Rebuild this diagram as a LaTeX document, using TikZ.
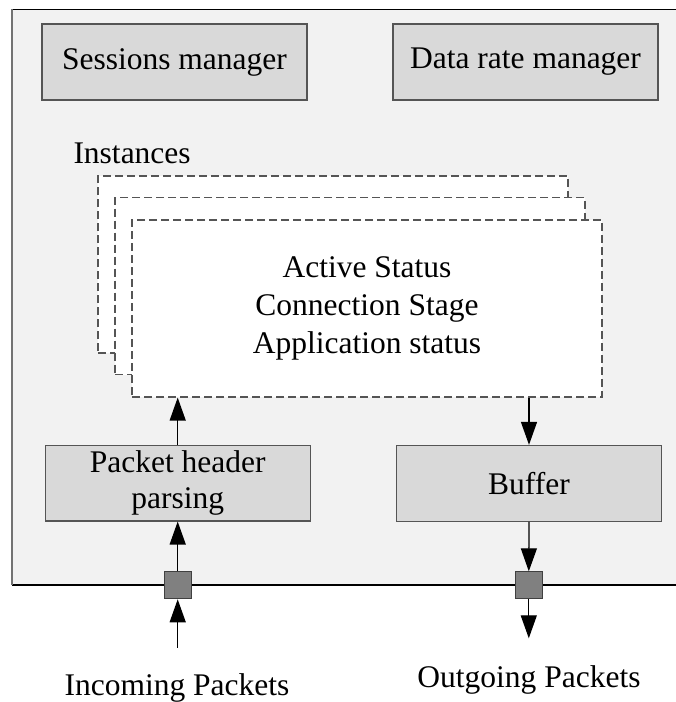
\documentclass[tikz,border=0pt]{standalone}
\usepackage{fontspec}
\setmainfont{Liberation Serif}
\usetikzlibrary{arrows.meta}
\definecolor{panelbg}{HTML}{F2F2F2}
\definecolor{boxfill}{HTML}{D9D9D9}
\definecolor{boxline}{HTML}{555555}
\definecolor{portfill}{HTML}{808080}
\tikzset{
  lbl/.style={font=\fontsize{31.5}{38}\selectfont, inner sep=0pt},
  graybox/.style={draw=boxline, line width=1.2pt, fill=boxfill, inner sep=0pt,
    minimum width=265pt, minimum height=76pt, align=center, lbl},
  instbox/.style={draw=boxline, line width=1.2pt, dash pattern=on 8pt off 4pt,
    fill=white, inner sep=0pt, minimum width=470pt, minimum height=177pt},
  port/.style={draw=black!75, line width=1pt, fill=portfill, inner sep=0pt,
    minimum size=27pt},
  flow/.style={line width=1.3pt, -{Triangle[length=23pt,width=16pt]}}
}
\begin{document}
\begin{tikzpicture}[x=1pt,y=-1pt]
\useasboundingbox (0,0) rectangle (676,702);

% module panel
\fill[panelbg] (12,9.3) rectangle (676,585);
\draw[line width=1.3pt] (12,9.3) -- (676,9.3);
\draw[line width=1.3pt] (12,585) -- (676,585);
\draw[line width=1.3pt, color=black!55] (12,9.3) -- (12,585);

% managers
\node[graybox] (sess) at (174.5,62) {Sessions manager};
\node[graybox] (rate) at (525.5,62) {Data rate manager};

% stacked instance records
\node[lbl, anchor=base west] (inst) at (73.3,163.3) {Instances};
\node[instbox] (r1) at (333,264.5) {};
\node[instbox] (r2) at (350,286) {};
\node[instbox, align=center, lbl] (r3) at (367,308.5)
  {Active Status\\Connection Stage\\Application status};

% input / output stages
\node[graybox, minimum height=75.3pt,
  font=\fontsize{31.5}{35.7}\selectfont] (pkt) at (177.7,483.3)
  {Packet header\\parsing};
\node[graybox, minimum height=75.7pt] (buf) at (529,483.3) {Buffer};

% ports on the panel edge
\node[port] (pin) at (177.7,585.3) {};
\node[port] (pout) at (528.8,585.3) {};

\coordinate (inSrc) at (177.7,647.7);
\coordinate (outDst) at (528.8,638.3);

% packet flow
\draw[flow] (inSrc) -- (pin.south);
\draw[flow] (pin.north) -- (pkt.south);
\draw[flow] (pkt.north) -- (pkt.north |- r3.south);
\draw[flow] (buf.north |- r3.south) -- (buf.north);
\draw[flow] (buf.south) -- (pout.north);
\draw[flow] (pout.south) -- (outDst);

% external labels
\node[lbl, anchor=base] (inLbl) at (177,695) {Incoming Packets};
\node[lbl, anchor=base] (outLbl) at (529,687.3) {Outgoing Packets};
\end{tikzpicture}
\end{document}
